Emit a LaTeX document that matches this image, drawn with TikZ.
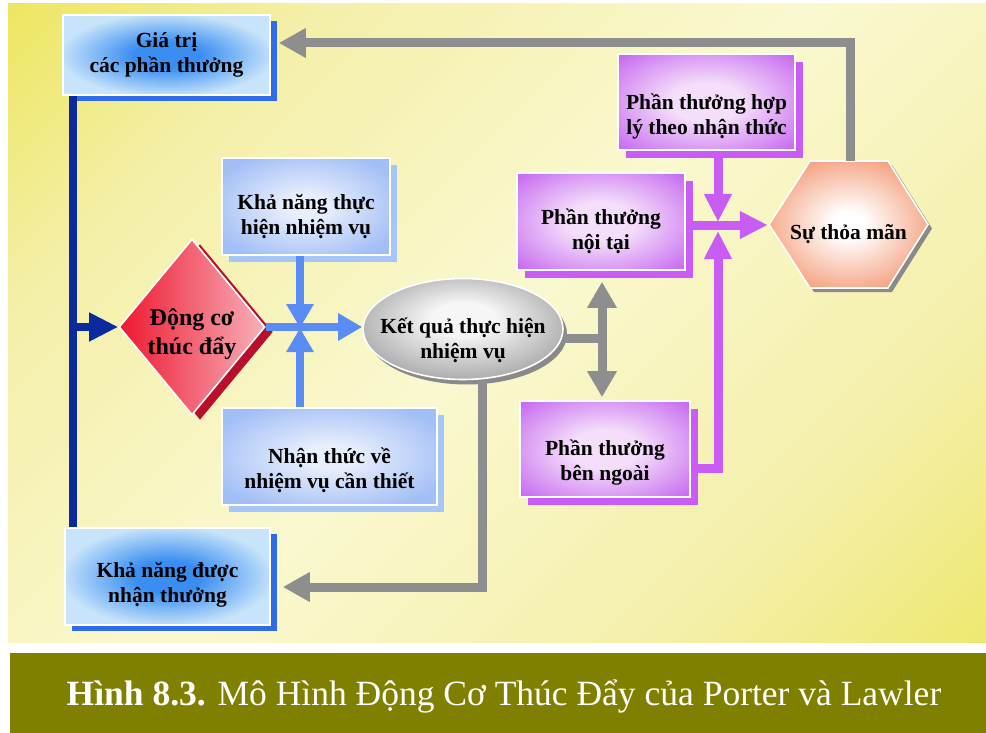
\documentclass[tikz,border=0pt]{standalone}
\usepackage{fontspec}
\setmainfont{Liberation Serif}
\usetikzlibrary{arrows.meta,shapes.geometric,shadows,calc}
\definecolor{pY1}{HTML}{E6DC14}
\definecolor{pY2}{HTML}{F4EFA8}
\definecolor{pY3}{HTML}{FAF8D0}
\definecolor{pY4}{HTML}{E8E034}
\definecolor{navy}{HTML}{0A2A9E}
\definecolor{cblue}{HTML}{5A8CF5}
\definecolor{garrow}{HTML}{8E8E8E}
\definecolor{parrow}{HTML}{C95CF5}
\definecolor{olivebar}{HTML}{808000}
\definecolor{bg1}{HTML}{3A8EF2}
\definecolor{bg2}{HTML}{C8E4FA}
\definecolor{bshadow}{HTML}{2F6CE8}
\definecolor{pw1}{HTML}{E8EEFC}
\definecolor{pw2}{HTML}{A2BEF6}
\definecolor{pwshadow}{HTML}{A6C6F8}
\definecolor{pu1}{HTML}{F4DEFA}
\definecolor{pu2}{HTML}{C86CF0}
\definecolor{pushadow}{HTML}{C85CF5}
\definecolor{dred}{HTML}{EE1830}
\definecolor{dpink}{HTML}{F8B0BA}
\definecolor{dshadow}{HTML}{B8102A}
\definecolor{hx1}{HTML}{FFFFFF}
\definecolor{hx2}{HTML}{F4A07E}
\definecolor{el1}{HTML}{F6F6F6}
\definecolor{el2}{HTML}{A4A4A4}
\definecolor{gshadow}{HTML}{8A8A8A}
\pgfdeclarehorizontalshading{panelshade}{100bp}{color(0bp)=(pY1); color(28bp)=(pY2); color(50bp)=(pY3); color(72bp)=(pY2); color(100bp)=(pY4)}
\pgfdeclareradialshading{blueglow}{\pgfpoint{0bp}{0bp}}{color(0bp)=(bg1); color(8bp)=(bg1); color(26bp)=(bg2); color(50bp)=(bg2)}
\pgfdeclareradialshading{periglow}{\pgfpoint{0bp}{0bp}}{color(0bp)=(pw1); color(6bp)=(pw1); color(30bp)=(pw2); color(50bp)=(pw2)}
\pgfdeclareradialshading{purpglow}{\pgfpoint{0bp}{0bp}}{color(0bp)=(pu1); color(10bp)=(pu1); color(34bp)=(pu2); color(50bp)=(pu2)}
\pgfdeclareradialshading{hexglow}{\pgfpoint{0bp}{0bp}}{color(0bp)=(hx1); color(5bp)=(hx1); color(28bp)=(hx2); color(50bp)=(hx2)}
\pgfdeclareradialshading{ellglow}{\pgfpoint{0bp}{6bp}}{color(0bp)=(el1); color(8bp)=(el1); color(30bp)=(el2); color(50bp)=(el2)}
% strut that pushes a centred text block down by #1 (pt)
\newcommand{\lowerby}[1]{\rule{0pt}{\dimexpr 20pt+2\dimexpr #1pt\relax\relax}}
% zero-size text block, lowered by #1
\newcommand{\ztext}[2]{\raisebox{-#1}[0pt][0pt]{\makebox[0pt]{\begin{tabular}{@{}c@{}}#2\end{tabular}}}}
\tikzset{
  boxbase/.style={rectangle, draw=white, line width=1.6pt, inner sep=2pt, align=center,
    font=\fontsize{21.5}{25}\selectfont\bfseries},
  bluebox/.style={boxbase, shading=blueglow,
    drop shadow={shadow xshift=7pt, shadow yshift=-6pt, fill=bshadow, opacity=1}},
  peribox/.style={boxbase, shading=periglow,
    drop shadow={shadow xshift=7pt, shadow yshift=-7pt, fill=pwshadow, opacity=1}},
  purpbox/.style={boxbase, shading=purpglow,
    drop shadow={shadow xshift=8pt, shadow yshift=-8pt, fill=pushadow, opacity=1}},
  navyline/.style={draw=navy, line width=8pt},
  navyarrow/.style={draw=navy, line width=8pt, -{Triangle[length=29pt,width=27pt]}},
  bluearrow/.style={draw=cblue, line width=8pt, -{Triangle[length=24pt,width=26pt]}},
  grayline/.style={draw=garrow, line width=9pt},
  grayarrow/.style={draw=garrow, line width=9pt, -{Triangle[length=27pt,width=28pt]}},
  graydouble/.style={draw=garrow, line width=9pt,
    {Triangle[length=26pt,width=28pt]}-{Triangle[length=26pt,width=28pt]}},
  purparrow/.style={draw=parrow, line width=9pt, -{Triangle[length=28pt,width=26pt]}},
}
\begin{document}
\begin{tikzpicture}[x=1pt,y=-1pt]
\useasboundingbox (0,0) rectangle (986,733);
\fill[white] (0,0) rectangle (986,733);
% background panel
\shade[shading=panelshade, shading angle=-45] (8,4) rectangle (986,642);
% caption bar
\fill[olivebar] (10,653) rectangle (986,733);
\node[font=\fontsize{35.5}{40}\selectfont, text=white, inner sep=0] (cap) at (504,696)
  {\textbf{Hình 8.3.} Mô Hình Động Cơ Thúc Đẩy của Porter và Lawler};

% hexagon
\fill[gshadow] (773,228.5) -- (814,165) -- (892,165) -- (932,228.5) -- (892,292) -- (814,292) -- cycle;
\shadedraw[shading=hexglow, draw=white, line width=1.6pt]
  (769,224.5) -- (810,161) -- (888,161) -- (928,224.5) -- (888,288) -- (810,288) -- cycle;
\node[rectangle, minimum width=159pt, minimum height=127pt, inner sep=0,
  font=\fontsize{21.5}{25}\selectfont\bfseries] (hex) at (848.5,224.5)
  {\raisebox{-15pt}[0pt][0pt]{\makebox[0pt]{Sự thỏa mãn}}};

% boxes
\node[bluebox, minimum width=207pt, minimum height=80pt] (giatri) at (166.5,55) {Giá trị\\các phần thưởng};
\node[peribox, minimum width=168pt, minimum height=97pt] (knth) at (306,206.5) {\lowerby{8}Khả năng thực\\hiện nhiệm vụ};
\node[peribox, minimum width=215pt, minimum height=97pt] (nhanthuc) at (329.5,456.5) {\lowerby{12}Nhận thức về\\nhiệm vụ cần thiết};
\node[bluebox, minimum width=205pt, minimum height=97pt] (kndt) at (167.5,576.5) {\lowerby{6}Khả năng được\\nhận thưởng};
\node[purpbox, minimum width=177pt, minimum height=96pt] (hoply) at (706.5,102) {\lowerby{12}Phần thưởng hợp\\lý theo nhận thức};
\node[purpbox, minimum width=168pt, minimum height=97pt] (noitai) at (601,221.5) {\lowerby{8}Phần thưởng\\nội tại};
\node[purpbox, minimum width=170pt, minimum height=96pt] (bengoai) at (605,449) {\lowerby{11}Phần thưởng\\bên ngoài};

\node[diamond, minimum width=146pt, minimum height=176pt, inner sep=0, draw=white, line width=1.6pt,
  left color=dred, right color=dpink,
  font=\fontsize{24}{29}\selectfont\bfseries,
  drop shadow={shadow xshift=8pt, shadow yshift=-5pt, fill=dshadow, opacity=1}] (dongco) at (192,327)
  {\ztext{13pt}{Động cơ\\thúc đẩy}};
\node[ellipse, minimum width=200pt, minimum height=101pt, inner sep=0, draw=white, line width=1.6pt,
  shading=ellglow, font=\fontsize{21.5}{25}\selectfont\bfseries,
  drop shadow={shadow xshift=4pt, shadow yshift=-5pt, fill=gshadow, opacity=1}] (ketqua) at (463,329)
  {\ztext{17pt}{Kết quả thực hiện\\nhiệm vụ}};

% helper coordinates
\coordinate (nv) at (73,0);
\coordinate (bc) at (300,328);
\coordinate (gb) at (482,587);
\coordinate (gt) at (850,43);
\coordinate (gx) at (602,338);
\coordinate (pc) at (718,225);
\coordinate (pe) at (718,468);

% navy
\draw[navyline] (giatri.south -| nv) -- (kndt.north -| nv);
\draw[navyarrow] (dongco.west -| nv) -- (dongco.west);
% blue cross
\draw[bluearrow] (knth.south -| bc) -- (bc);
\draw[bluearrow] (nhanthuc.north -| bc) -- (bc);
\draw[bluearrow] (dongco.east) -- (ketqua.west |- dongco.east);
% gray
\draw[grayarrow] (ketqua.south -| gb) -- (gb) -- ($(kndt.east |- gb)+(12,0)$);
\draw[grayarrow] (hex.north -| gt) -- (gt) -- ($(giatri.east |- gt)+(8,0)$);
\draw[grayline] (ketqua.east |- gx) -- (gx);
\draw[graydouble] ($(noitai.south -| gx)+(0,11)$) -- ($(bengoai.north -| gx)+(0,-3)$);
% purple
\draw[purparrow] (hoply.south -| pc) -- ($(pc)+(0,-3)$);
\draw[purparrow] (bengoai.east |- pe) -- (pe) -- ($(pc)+(0,6)$);
\draw[purparrow] (noitai.east |- pc) -- ($(hex.west |- pc)+(-1,0)$);
\end{tikzpicture}
\end{document}
